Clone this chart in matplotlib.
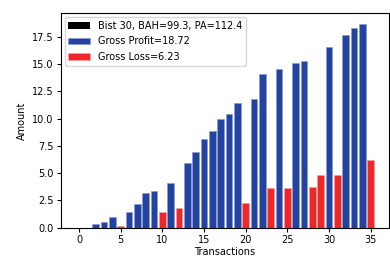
import matplotlib
matplotlib.use("Agg")
import matplotlib.pyplot as plt
import numpy as np

# cumulative gross profit / loss per transaction (0 = no bar)
transactions = np.arange(36)
gross_profit = [0, 0, 0.37, 0.50, 0.95, 0, 1.47, 2.18, 3.14, 3.33,
                0, 4.13, 0, 5.94, 6.97, 8.10, 8.90, 9.92, 10.38, 11.45,
                0, 11.80, 14.10, 0, 14.52, 0, 15.07, 15.26, 0, 0,
                16.60, 0, 17.68, 18.30, 18.72, 0]
gross_loss = [0, 0, 0, 0, 0, 0.16, 0, 0, 0, 0,
              1.45, 0, 1.81, 0, 0, 0, 0, 0, 0, 0,
              2.25, 0, 0, 3.60, 0, 3.60, 0, 0, 3.72, 4.79,
              0, 4.79, 0, 0, 0, 6.23]
bist = [0] * 36

plt.rcParams['font.size'] = 7

fig = plt.figure(figsize=(3.9, 2.62), dpi=100)
ax = fig.add_axes([60.7 / 390, 1 - 227.7 / 262, (389 - 60.7) / 390, (227.7 - 13.3) / 262])

ax.bar(transactions, bist, color='black', linewidth=0, label="Bist 30, BAH=99.3, PA=112.4")
ax.bar(transactions, gross_profit, color='#2343a0', edgecolor='#8c9ad0', linewidth=0.4,
       label="Gross Profit=18.72")
ax.bar(transactions, gross_loss, color='#ee2828', edgecolor='#f4a0a0', linewidth=0.4,
       label="Gross Loss=6.23")

ax.set_xlim(-2.19, 37.19)
ax.set_ylim(0, 19.656)
ax.set_xticks([0, 5, 10, 15, 20, 25, 30, 35])
ax.set_yticks([0, 2.5, 5, 7.5, 10, 12.5, 15, 17.5])
ax.set_xlabel('Transactions', labelpad=2)
ax.set_ylabel('Amount', labelpad=4)
ax.tick_params(length=3, pad=2)
ax.legend(loc='upper left', fontsize=7, handlelength=2.2, borderaxespad=0.4,
          labelspacing=0.55, framealpha=0.8)

fig.savefig('out.png', dpi=100)
